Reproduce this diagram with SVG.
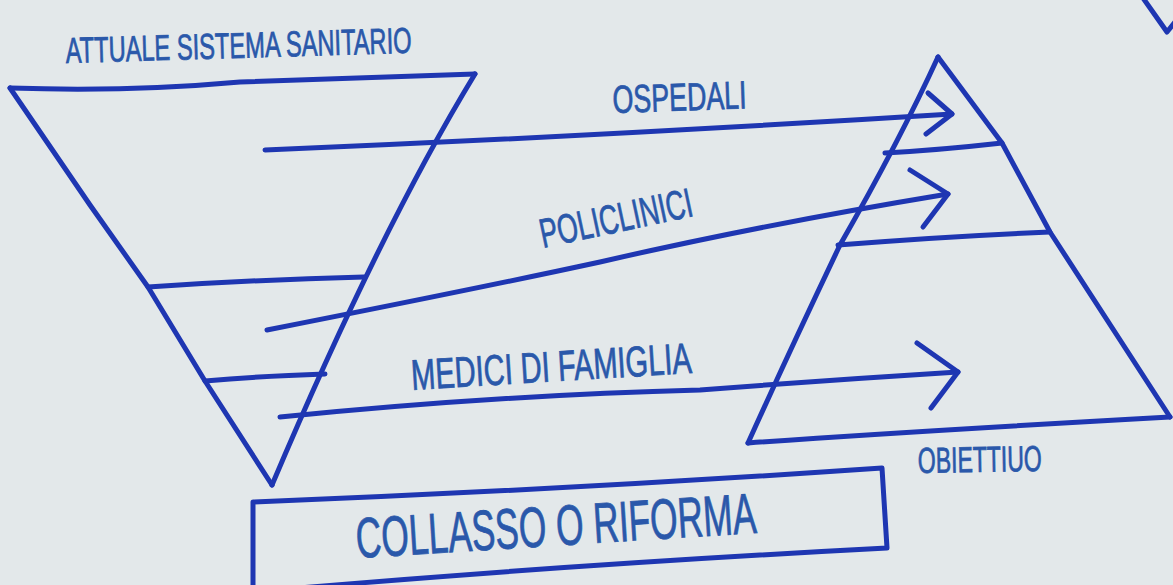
<svg xmlns="http://www.w3.org/2000/svg" width="1173" height="585" viewBox="0 0 1173 585">
<style>
.ln{fill:none;stroke:#1e36b2;stroke-width:5;stroke-linecap:round;stroke-linejoin:round}
.lb{fill:#2a58aa;stroke:#2a58aa;stroke-width:0.8;font-family:"Liberation Sans Narrow","Liberation Sans",Arial,sans-serif}
</style>
<rect width="1173" height="585" fill="#e3e8ea"/>
<g id="corner-mark"><path class="ln" d="M1143,-2 L1167,32 L1175,22"/></g>
<g id="node-current-system">
<path class="ln" d="M10,88 Q130,92 240,82 Q360,78 475,74"/>
<path class="ln" d="M475,74 Q380,230 272,485"/>
<path class="ln" d="M10,88 L90,205 L148,287 L205,381 L272,485"/>
<path class="ln" d="M148,287 Q250,280 364,277"/>
<path class="ln" d="M205,381 Q260,376 325,374"/>
<text class="lb" x="66" y="63" font-size="36" textLength="346" lengthAdjust="spacingAndGlyphs" transform="rotate(-1.7 66 63)">ATTUALE SISTEMA SANITARIO</text>
</g>
<g id="node-target">
<path class="ln" d="M938,57 Q900,140 840,245 Q790,350 748,443"/>
<path class="ln" d="M938,57 L1002,143 L1050,232 L1170,417"/>
<path class="ln" d="M748,443 Q900,432 1170,417"/>
<path class="ln" d="M885,153 Q940,150 1002,143"/>
<path class="ln" d="M838,245 Q950,236 1050,232"/>
<text class="lb" x="918" y="473" font-size="36" textLength="124" lengthAdjust="spacingAndGlyphs" transform="rotate(-1 918 473)">OBIETTIUO</text>
</g>
<g id="connectors">
<path class="ln" d="M265,150 Q600,136 952,114"/>
<path class="ln" d="M928,93 L952,114 L926,134"/>
<path class="ln" d="M267,330 Q480,288 600,262 Q760,225 948,194"/>
<path class="ln" d="M910,170 L948,194 L923,227"/>
<path class="ln" d="M280,417 Q500,395 700,390 Q830,380 958,372"/>
<path class="ln" d="M917,343 L958,372 L931,408"/>
</g>
<g id="label-ospedali"><text class="lb" x="613" y="113" font-size="39" textLength="134" lengthAdjust="spacingAndGlyphs" transform="rotate(-2 613 113)">OSPEDALI</text></g>
<g id="label-policlinici"><text class="lb" x="543" y="248" font-size="41" textLength="155" lengthAdjust="spacingAndGlyphs" transform="rotate(-12 543 248)">POLICLINICI</text></g>
<g id="label-medici"><text class="lb" x="412" y="390" font-size="43" textLength="281" lengthAdjust="spacingAndGlyphs" transform="rotate(-3.5 412 390)">MEDICI DI FAMIGLIA</text></g>
<g id="node-outcome">
<path class="ln" d="M253,502 Q560,490 882,468 L887,548 Q560,565 253,592 L253,502"/>
<text class="lb" x="357" y="558" font-size="57" textLength="401" lengthAdjust="spacingAndGlyphs" transform="rotate(-3.6 357 558)">COLLASSO O RIFORMA</text>
</g>
</svg>
